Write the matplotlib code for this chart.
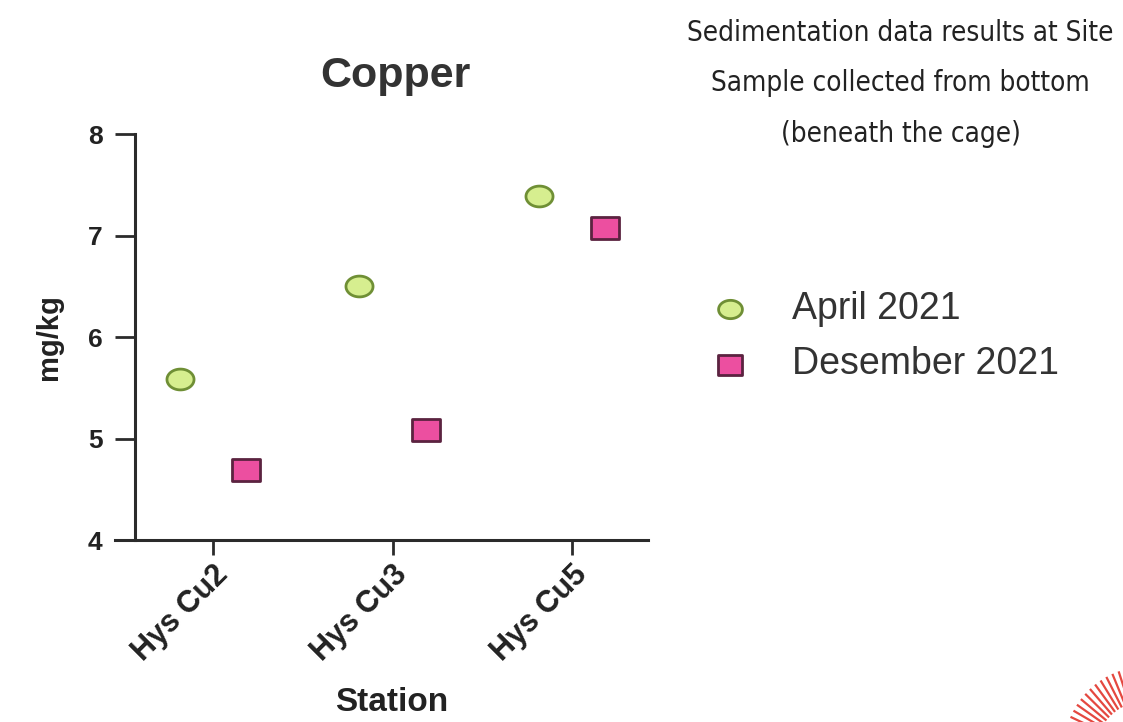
import numpy as np
import matplotlib
matplotlib.use("Agg")
import matplotlib.pyplot as plt
from matplotlib.path import Path
from matplotlib.lines import Line2D

# data
stations = ["Hys Cu2", "Hys Cu3", "Hys Cu5"]
april_2021 = [5.59, 6.50, 7.39]
desember_2021 = [4.69, 5.08, 7.07]
yticks = [4, 5, 6, 7, 8]

header = "Sedimentation data results at Site\nSample collected from bottom\n(beneath the cage)"

C_APR_FACE = "#d6ee8f"
C_APR_EDGE = "#6f8f35"
C_DEC_FACE = "#ec4fa0"
C_DEC_EDGE = "#5b2340"
C_AXIS = "#2b2b2b"
FONT = "Liberation Sans"

# picture is stretched sideways, so the circles are ellipses
t = np.linspace(0, 2 * np.pi, 60)
ellipse = Path(np.column_stack([1.3 * np.cos(t), np.sin(t)]), closed=True)
rect = Path([(-1.25, -1), (1.25, -1), (1.25, 1), (-1.25, 1), (-1.25, -1)], closed=True)

fig = plt.figure(figsize=(11.23, 7.22), dpi=100, facecolor="white")
ax = fig.add_axes([0.1024, 0.252, 0.4746, 0.5623])

x = np.arange(len(stations))
off = 0.185
ax.scatter(x - off, april_2021, marker=ellipse, s=380, facecolor=C_APR_FACE,
           edgecolor=C_APR_EDGE, linewidth=2.0, zorder=3, label="April 2021")
ax.scatter(x + off, desember_2021, marker=rect, s=380, facecolor=C_DEC_FACE,
           edgecolor=C_DEC_EDGE, linewidth=2.0, zorder=3, label="Desember 2021")

ax.set_xlim(-0.546, 2.423)
ax.set_ylim(4, 8)
ax.set_yticks(yticks)
ax.set_xticks(x)

for s in ["top", "right"]:
    ax.spines[s].set_visible(False)
for s in ["left", "bottom"]:
    ax.spines[s].set_linewidth(2.2)
    ax.spines[s].set_color(C_AXIS)
ax.spines["left"].set_position(("outward", -14.4))

ax.tick_params(axis="y", length=14.4, width=2.0, color=C_AXIS, pad=9)
ax.tick_params(axis="x", length=11, width=2.0, color=C_AXIS, pad=3)
ax.set_yticklabels([str(v) for v in yticks], fontsize=19, fontweight="bold",
                   family=FONT, color="#222222")
ax.set_xticklabels(stations, rotation=45, ha="right", rotation_mode="anchor",
                   fontsize=22, fontweight="bold", family=FONT,
                   color="#222222")

ax.set_ylabel("mg/kg", fontsize=21, fontweight="bold", family=FONT,
              color="#222222", labelpad=18)
ax.set_xlabel("Station", fontsize=24, fontweight="bold", family=FONT,
              color="#222222")
ax.xaxis.set_label_coords(0.52, -0.362)
ax.set_title("Copper", fontsize=31, fontweight="bold", family=FONT,
             color="#333333", pad=34, x=0.527)

fig.legend(loc="upper left", bbox_to_anchor=(0.632, 0.597), frameon=False,
           prop={"family": FONT, "size": 27}, labelcolor="#333333",
           handletextpad=1.1, labelspacing=0.52, markerscale=0.88,
           borderpad=0.0, borderaxespad=0.0, handlelength=1.1)

fig.text(0.802, 0.974, header, ha="center", va="top", fontsize=20,
         family="DejaVu Sans", fontstretch="condensed", color="#222222",
         linespacing=2.03)

# red sunburst logo clipped at the bottom right corner
cx, cy = 1.0 + 0.02, -0.04
for ang in np.linspace(95, 175, 18):
    a = np.deg2rad(ang)
    fig.add_artist(Line2D([cx + 0.045 * np.cos(a), cx + 0.072 * np.cos(a)],
                          [cy + 0.07 * np.sin(a), cy + 0.115 * np.sin(a)],
                          transform=fig.transFigure, color="#e0281e",
                          linewidth=1.6, alpha=0.85))

fig.savefig("out.png", dpi=100, facecolor="white")
